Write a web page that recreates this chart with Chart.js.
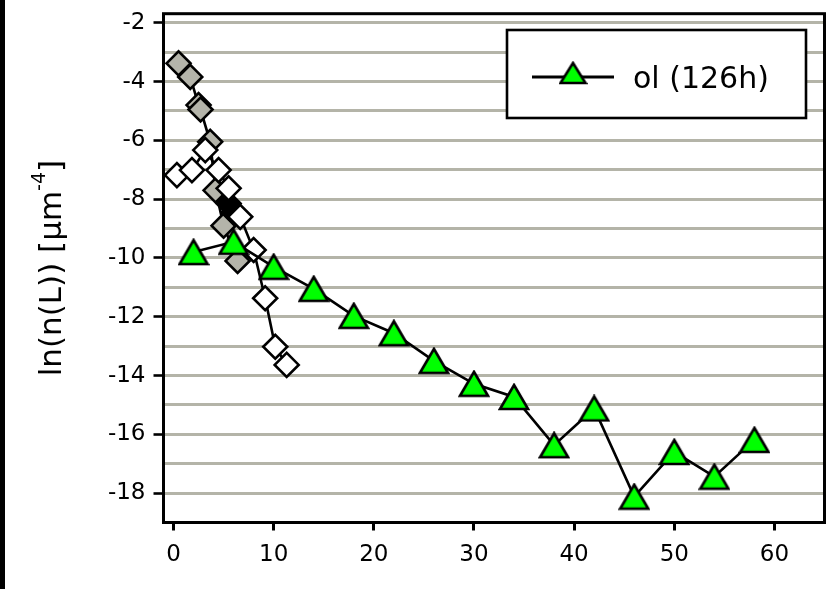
<!DOCTYPE html>
<html>
<head>
<meta charset="utf-8">
<script src="https://cdn.jsdelivr.net/npm/chart.js@4/dist/chart.umd.min.js"></script>
<style>
  html, body { margin: 0; padding: 0; background: #fff; }
  #wrap { width: 831px; height: 589px; }
</style>
</head>
<body>
<div id="wrap"><canvas id="csd" width="831" height="589"></canvas></div>
<script>
// ol (126h) - green triangles
const olX = [2, 6, 10, 14, 18, 22, 26, 30, 34, 38, 42, 46, 50, 54, 58];
const olY = [-9.8, -9.45, -10.3, -11.05, -11.97, -12.56, -13.5, -14.28, -14.73, -16.37, -15.12, -18.12, -16.6, -17.44, -16.19];

// grey diamonds
const greyX = [0.5, 1.67, 2.5, 2.7, 3.66, 4.2, 5.0, 6.4];
const greyY = [-3.38, -3.84, -4.8, -4.95, -6.05, -7.7, -8.9, -10.1];

// black diamonds (mostly hidden)
const blackX = [5.5, 6.0];
const blackY = [-8.15, -8.45];

// white diamonds
const whiteX = [0.34, 1.84, 3.17, 4.5, 5.5, 6.66, 8.0, 9.15, 10.16, 11.3];
const whiteY = [-7.18, -7.01, -6.33, -7.01, -7.63, -8.6, -9.73, -11.37, -13.02, -13.64];

const xTicks = [0, 10, 20, 30, 40, 50, 60];
const yGrid = [-19, -18, -17, -16, -15, -14, -13, -12, -11, -10, -9, -8, -7, -6, -5, -4, -3, -2];
const legendLabel = 'ol (126h)';
const yTitle = 'ln(n(L)) [µm';
const yTitleSup = '-4';
const yTitleEnd = ']';

const FONT = '"DejaVu Sans", sans-serif';
const GRID = '#b4b4a8';
const GREEN = '#00ff00';

function toPoints(xs, ys) {
    return xs.map((x, i) => ({ x: x, y: ys[i] }));
}

// excel style triangle, centred on its bounding box
function triangleMarker(w, h) {
    const c = document.createElement('canvas');
    c.width = w;
    c.height = h;
    const g = c.getContext('2d');
    g.beginPath();
    g.moveTo(w / 2, 2);
    g.lineTo(w - 2, h - 2);
    g.lineTo(2, h - 2);
    g.closePath();
    g.fillStyle = GREEN;
    g.fill();
    g.lineWidth = 2.6;
    g.lineJoin = 'miter';
    g.strokeStyle = '#000';
    g.stroke();
    return c;
}

const triImg = triangleMarker(32, 28);
const triLegend = triangleMarker(29, 24);

// no extra room for tick labels, the plot area is fixed by layout padding
function noPad(s) {
    s.paddingLeft = 0;
    s.paddingRight = 0;
    s.paddingTop = 0;
    s.paddingBottom = 0;
}

const framePlugin = {
    id: 'frame',
    beforeDatasetsDraw(chart) {
        const a = chart.chartArea;
        const ctx = chart.ctx;
        ctx.save();
        ctx.strokeStyle = '#000';
        ctx.lineWidth = 3;
        ctx.strokeRect(a.left, a.top, a.right - a.left, a.bottom - a.top);
        ctx.restore();
    },
    afterDraw(chart) {
        const ctx = chart.ctx;
        const a = chart.chartArea;
        ctx.save();
        // left edge bar
        ctx.fillStyle = '#000';
        ctx.fillRect(0, 0, 5, chart.height);

        // legend box
        ctx.fillStyle = '#fff';
        ctx.fillRect(507, 30, 299, 88);
        ctx.strokeStyle = '#000';
        ctx.lineWidth = 2.6;
        ctx.strokeRect(507, 30, 299, 88);
        ctx.lineWidth = 3;
        ctx.beginPath();
        ctx.moveTo(532, 77);
        ctx.lineTo(614, 77);
        ctx.stroke();
        ctx.drawImage(triLegend, 573 - triLegend.width / 2, 73 - triLegend.height / 2);
        ctx.fillStyle = '#000';
        ctx.font = '30px ' + FONT;
        ctx.textBaseline = 'middle';
        ctx.textAlign = 'left';
        ctx.fillText(legendLabel, 633, 80);

        // y axis title with superscript
        ctx.translate(50, (a.top + a.bottom) / 2);
        ctx.rotate(-Math.PI / 2);
        const mainFont = '31px ' + FONT;
        const supFont = '19px ' + FONT;
        ctx.font = mainFont;
        const w1 = ctx.measureText(yTitle).width;
        const w3 = ctx.measureText(yTitleEnd).width;
        ctx.font = supFont;
        const w2 = ctx.measureText(yTitleSup).width;
        let x = -(w1 + w2 + w3) / 2;
        ctx.textAlign = 'left';
        ctx.textBaseline = 'alphabetic';
        ctx.font = mainFont;
        ctx.fillText(yTitle, x, 11);
        x += w1;
        ctx.font = supFont;
        ctx.fillText(yTitleSup, x, -5);
        x += w2;
        ctx.font = mainFont;
        ctx.fillText(yTitleEnd, x, 11);
        ctx.restore();
    }
};

const lineStyle = { showLine: true, borderColor: '#000', borderWidth: 2.6, tension: 0, clip: false };

new Chart(document.getElementById('csd'), {
    type: 'scatter',
    data: {
        datasets: [
            Object.assign({
                label: legendLabel,
                data: toPoints(olX, olY),
                pointStyle: triImg,
                order: 0
            }, lineStyle),
            Object.assign({
                label: 'white',
                data: toPoints(whiteX, whiteY),
                pointStyle: 'rectRot',
                pointRadius: 12,
                pointBackgroundColor: '#fff',
                pointBorderColor: '#000',
                pointBorderWidth: 2.6,
                order: 1
            }, lineStyle),
            Object.assign({
                label: 'black',
                data: toPoints(blackX, blackY),
                pointStyle: 'rectRot',
                pointRadius: 12,
                pointBackgroundColor: '#000',
                pointBorderColor: '#000',
                pointBorderWidth: 2.6,
                order: 2
            }, lineStyle),
            Object.assign({
                label: 'grey',
                data: toPoints(greyX, greyY),
                pointStyle: 'rectRot',
                pointRadius: 12,
                pointBackgroundColor: '#b4b4aa',
                pointBorderColor: '#000',
                pointBorderWidth: 2.6,
                order: 3
            }, lineStyle)
        ]
    },
    options: {
        responsive: false,
        animation: false,
        devicePixelRatio: 1,
        layout: { autoPadding: false, padding: { top: 13.7, right: 6.5, left: 0, bottom: 0 } },
        plugins: {
            legend: { display: false },
            tooltip: { enabled: false }
        },
        scales: {
            x: {
                type: 'linear',
                min: -1,
                max: 65,
                afterBuildTicks: s => { s.ticks = xTicks.map(v => ({ value: v })); },
                afterFit: s => { s.height = 66.5; noPad(s); },
                border: { display: false },
                grid: {
                    drawOnChartArea: false,
                    drawTicks: true,
                    tickLength: 8,
                    tickWidth: 3,
                    tickColor: '#000'
                },
                ticks: {
                    autoSkip: false,
                    maxRotation: 0,
                    padding: 11,
                    color: '#000',
                    font: { family: FONT, size: 23 },
                    callback: v => String(v)
                }
            },
            y: {
                type: 'linear',
                min: -19,
                max: -1.69,
                afterBuildTicks: s => { s.ticks = yGrid.map(v => ({ value: v })); },
                afterFit: s => { s.width = 163.5; noPad(s); },
                border: { display: false },
                grid: {
                    color: GRID,
                    lineWidth: 3,
                    drawTicks: true,
                    tickLength: 10,
                    tickWidth: 2.6,
                    tickColor: c => (c.tick && c.tick.value % 2 === 0) ? '#000' : 'rgba(0,0,0,0)'
                },
                ticks: {
                    autoSkip: false,
                    padding: 8,
                    color: '#000',
                    font: { family: FONT, size: 23 },
                    callback: v => (v % 2 === 0 ? String(v) : '')
                }
            }
        }
    },
    plugins: [framePlugin]
});
</script>
</body>
</html>
